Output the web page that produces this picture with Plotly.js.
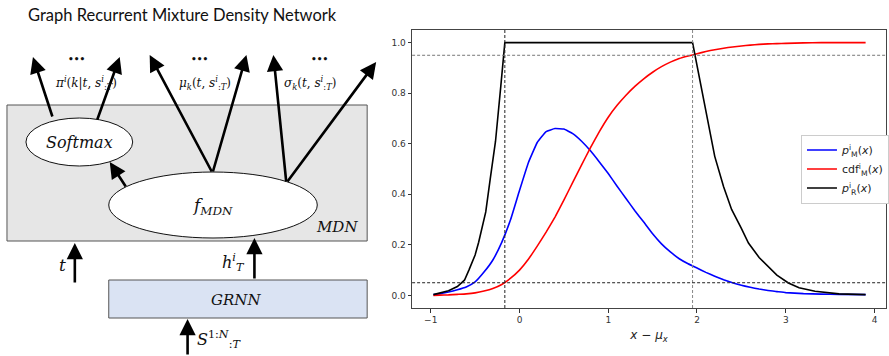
<!DOCTYPE html>
<html>
<head>
<meta charset="utf-8">
<script src="https://cdn.plot.ly/plotly-3.0.1.min.js"></script>
<style>html,body{margin:0;padding:0;background:#fff}#chart{width:889px;height:356px}</style>
</head>
<body>
<div id="chart"></div>
<script>
// ---- data (right panel) ----
const xM = [-0.97,-0.9,-0.8,-0.7,-0.6,-0.5,-0.4,-0.3,-0.2,-0.1,0.0,0.1,0.2,0.3,0.4,0.5,0.6,0.7,0.8,0.9,1.0,1.1,1.2,1.3,1.4,1.5,1.6,1.7,1.8,1.9,2.0,2.1,2.2,2.3,2.4,2.5,2.6,2.7,2.8,2.9,3.0,3.2,3.4,3.6,3.9];
const pM = [0.003,0.006,0.013,0.022,0.033,0.053,0.092,0.140,0.210,0.300,0.415,0.525,0.605,0.648,0.660,0.658,0.640,0.610,0.572,0.528,0.482,0.432,0.383,0.335,0.290,0.244,0.204,0.172,0.145,0.125,0.108,0.091,0.076,0.062,0.050,0.040,0.032,0.025,0.019,0.015,0.011,0.007,0.005,0.004,0.003];
const cdfM = [0,0.001,0.002,0.004,0.006,0.010,0.017,0.027,0.043,0.068,0.100,0.143,0.195,0.250,0.310,0.377,0.447,0.516,0.585,0.648,0.705,0.752,0.792,0.827,0.857,0.883,0.905,0.923,0.937,0.947,0.956,0.965,0.972,0.978,0.983,0.987,0.990,0.993,0.995,0.996,0.997,0.999,1.0,1.0,1.0];
const xR = [-0.97,-0.9,-0.8,-0.7,-0.62,-0.57,-0.5,-0.46,-0.38,-0.33,-0.27,-0.21,-0.165,1.95,2.0,2.1,2.15,2.2,2.3,2.39,2.5,2.58,2.7,2.76,2.9,3.03,3.15,3.33,3.6,3.9];
const pR = [0.003,0.008,0.018,0.035,0.06,0.10,0.16,0.21,0.33,0.46,0.61,0.83,1.0,1.0,0.91,0.72,0.63,0.55,0.43,0.34,0.265,0.207,0.15,0.128,0.08,0.049,0.03,0.016,0.006,0.003];
const lowerX = -0.165, upperX = 1.95;
const lowAlpha = 0.05, highAlpha = 0.95;
const xTicks = [-1,0,1,2,3,4];
const yTicks = [0,0.2,0.4,0.6,0.8,1.0];
const legendNames = ['<i>p</i><sup>i</sup><sub>M</sub>(<i>x</i>)','cdf<sup>i</sup><sub>M</sub>(<i>x</i>)','<i>p</i><sup>i</sup><sub>R</sub>(<i>x</i>)'];

const traces = [
  {x:xM, y:pM, type:'scatter', mode:'lines', name:legendNames[0], line:{color:'#0000ff', width:1.6, shape:'spline', smoothing:0.3}},
  {x:xM, y:cdfM, type:'scatter', mode:'lines', name:legendNames[1], line:{color:'#ff0000', width:1.6, shape:'spline', smoothing:0.3}},
  {x:xR, y:pR, type:'scatter', mode:'lines', name:legendNames[2], line:{color:'#000000', width:1.6}},
  {x:[0], y:[0], xaxis:'x2', yaxis:'y2', type:'scatter', mode:'markers', marker:{opacity:0}, showlegend:false, hoverinfo:'skip'}
];

// ---- left diagram (pixel coordinates on hidden overlay axes) ----
const serif = 'DejaVu Serif, Liberation Serif, serif';
const shapes = [
  {type:'rect', xref:'x2', yref:'y2', x0:7, x1:368, y0:105, y1:241, fillcolor:'#e6e6e6', line:{color:'#555', width:1}, layer:'below'},
  {type:'circle', xref:'x2', yref:'y2', x0:26, x1:133, y0:118, y1:166, fillcolor:'#fff', line:{color:'#111', width:1}, layer:'below'},
  {type:'circle', xref:'x2', yref:'y2', x0:109, x1:318, y0:172, y1:238, fillcolor:'#fff', line:{color:'#111', width:1}, layer:'below'},
  {type:'rect', xref:'x2', yref:'y2', x0:109, x1:368, y0:280, y1:318, fillcolor:'#dae3f3', line:{color:'#555', width:1}, layer:'below'},
  // reference lines on the plot
  {type:'line', xref:'x', yref:'y domain', x0:lowerX, x1:lowerX, y0:0, y1:1, line:{color:'#222', width:1, dash:'3px,2px'}},
  {type:'line', xref:'x', yref:'y domain', x0:upperX, x1:upperX, y0:0, y1:1, line:{color:'#888', width:1, dash:'3px,2px'}},
  {type:'line', xref:'x domain', yref:'y', x0:0, x1:1, y0:lowAlpha, y1:lowAlpha, line:{color:'#222', width:1, dash:'3px,2px'}},
  {type:'line', xref:'x domain', yref:'y', x0:0, x1:1, y0:highAlpha, y1:highAlpha, line:{color:'#777', width:1, dash:'3px,2px'}}
];

function arrow(x0,y0,x1,y1){
  return {xref:'x2', yref:'y2', axref:'x2', ayref:'y2', x:x1, y:y1, ax:x0, ay:y0, text:'', showarrow:true,
          arrowhead:2, arrowsize:1.25, arrowwidth:2.6, arrowcolor:'#000', standoff:0, startstandoff:0};
}
function label(x,y,text,size,extra){
  return Object.assign({xref:'x2', yref:'y2', x:x, y:y, text:text, showarrow:false,
          font:{family:serif, size:size, color:'#111'}, xanchor:'center', yanchor:'middle'}, extra||{});
}

const annotations = [
  {xref:'x2', yref:'y2', x:26, y:15, xanchor:'left', yanchor:'middle', showarrow:false,
   text:'Graph Recurrent Mixture Density Network', font:{family:'Lato, Open Sans, sans-serif', size:16.5, color:'#111'}},
  arrow(53,118,33,57), arrow(97,121,120,57),
  arrow(213,173,150,55), arrow(213,173,247,55),
  arrow(287,183,274,55), arrow(287,183,377,62),
  arrow(127,188,110,162),
  arrow(75,284,75,243), arrow(255,280,255,238), arrow(188,356,188,319),
  label(77,59,'<b>•••</b>',9),
  label(200,59,'<b>•••</b>',9),
  label(320,59,'<b>•••</b>',9),
  label(86,83,'<i>π</i><sup><i>i</i></sup>(<i>k</i>|<i>t</i>, <i>s</i><sup><i>i</i></sup><sub>:<i>T</i></sub>)',12),
  label(205,83,'<i>μ</i><sub><i>k</i></sub>(<i>t</i>, <i>s</i><sup><i>i</i></sup><sub>:<i>T</i></sub>)',12),
  label(311,83,'<i>σ</i><sub><i>k</i></sub>(<i>t</i>, <i>s</i><sup><i>i</i></sup><sub>:<i>T</i></sub>)',12),
  label(80,142,'<i>Softmax</i>',16),
  label(213,206,'<i>f</i><sub><i>MDN</i></sub>',17),
  label(338,227,'<i>MDN</i>',15),
  label(237,300,'<i>GRNN</i>',15),
  label(63,265,'<i>t</i>',17),
  label(234,262,'<i>h</i><sup><i>i</i></sup><sub><i>T</i></sub>',16),
  label(195,339,'<i>S</i><sup>1:<i>N</i></sup><sub>:<i>T</i></sub>',16,{xanchor:'left'})
];

const tickFont = {family:'DejaVu Sans, sans-serif', size:9, color:'#333'};
const layout = {
  width:889, height:356,
  margin:{l:0, r:0, t:0, b:0},
  paper_bgcolor:'#fff', plot_bgcolor:'rgba(0,0,0,0)',
  showlegend:true,
  legend:{x:0.903, y:0.622, xanchor:'left', yanchor:'top', bgcolor:'#fff', bordercolor:'#ccc', borderwidth:1,
          font:{family:'DejaVu Sans, sans-serif', size:11, color:'#222'}, itemwidth:30, tracegroupgap:0},
  xaxis:{domain:[0.4646,0.9989], range:[-1.21,4.13], tickvals:xTicks, ticks:'outside', ticklen:3.5, tickcolor:'#333',
         showline:true, mirror:true, linecolor:'#444', linewidth:1, showgrid:false, zeroline:false, tickfont:tickFont,
         title:{text:'<i>x</i> − <i>μ</i><sub><i>x</i></sub>', font:{family:'DejaVu Sans, sans-serif', size:12, color:'#222'}, standoff:6},
         anchor:'y'},
  yaxis:{domain:[0.1348,0.9157], range:[-0.05,1.05], tickvals:yTicks, tickformat:'.1f', ticks:'outside', ticklen:3.5, tickcolor:'#333',
         showline:true, mirror:true, linecolor:'#444', linewidth:1, showgrid:false, zeroline:false, tickfont:tickFont, anchor:'x'},
  xaxis2:{domain:[0,1], range:[0,889], visible:false, fixedrange:true, anchor:'y2'},
  yaxis2:{domain:[0,1], range:[356,0], visible:false, fixedrange:true, anchor:'x2'},
  shapes:shapes,
  annotations:annotations
};

Plotly.newPlot('chart', traces, layout, {displayModeBar:false, staticPlot:true});
</script>
</body>
</html>
